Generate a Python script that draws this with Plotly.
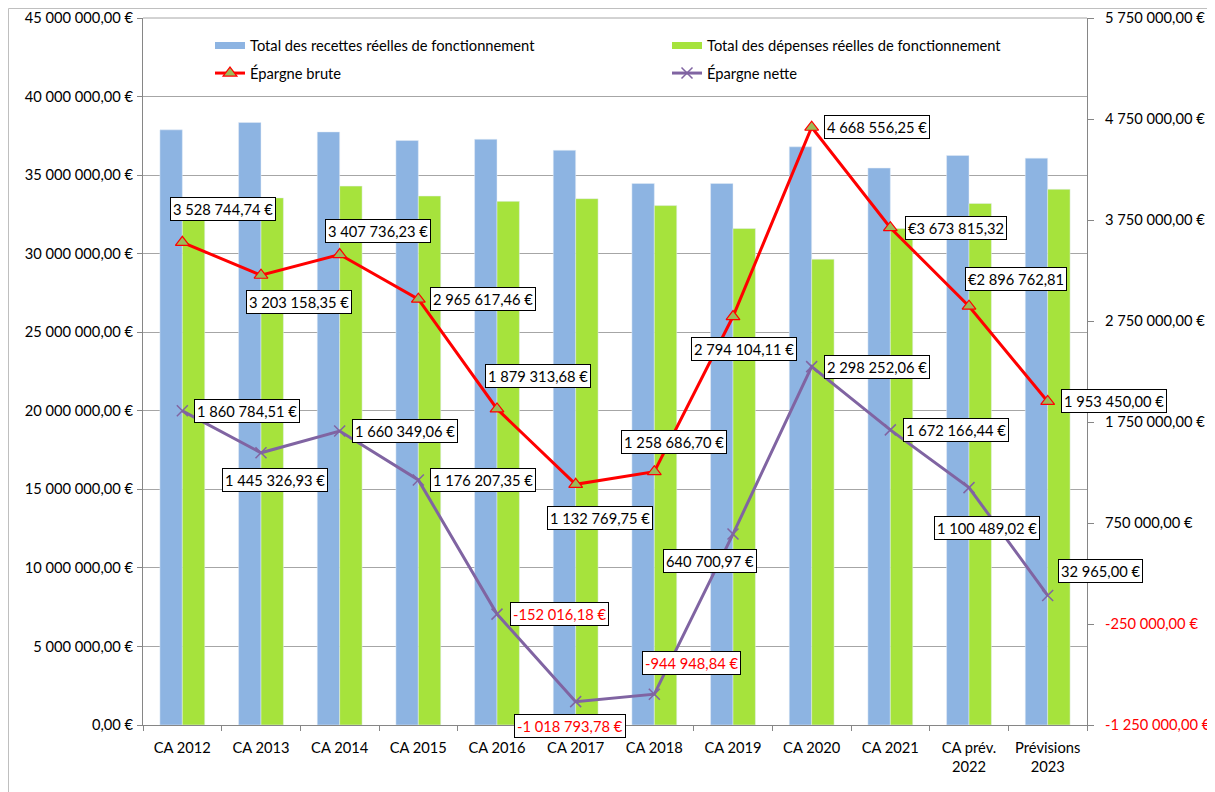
import plotly.graph_objects as go

# ---------------- data ----------------
categories = ["CA 2012", "CA 2013", "CA 2014", "CA 2015", "CA 2016", "CA 2017",
              "CA 2018", "CA 2019", "CA 2020", "CA 2021", "CA prév.<br>2022",
              "Prévisions<br>2023"]
recettes = [37880000, 38350000, 37750000, 37200000, 37280000, 36580000,
            34470000, 34470000, 36800000, 35450000, 36250000, 36080000]
depenses = [33000000, 33550000, 34300000, 33670000, 33330000, 33500000,
            33060000, 31600000, 29650000, 31600000, 33200000, 34100000]
epargne_brute = [3528744.74, 3203158.35, 3407736.23, 2965617.46, 1879313.68,
                 1132769.75, 1258686.70, 2794104.11, 4668556.25, 3673815.32,
                 2896762.81, 1953450.00]
epargne_nette = [1860784.51, 1445326.93, 1660349.06, 1176207.35, -152016.18,
                 -1018793.78, -944948.84, 640700.97, 2298252.06, 1672166.44,
                 1100489.02, 32965.00]
# label style: euro sign as prefix for some points (as in the source)
brute_euro_prefix = [False] * 9 + [True, True, False]
left_ticks = [0, 5e6, 10e6, 15e6, 20e6, 25e6, 30e6, 35e6, 40e6, 45e6]
right_ticks = [-1250000, -250000, 750000, 1750000, 2750000, 3750000, 4750000, 5750000]

# label offsets in pixels (xshift, yshift)
brute_shift = [(41, 33), (38, -27), (38, 24), (65, 0), (41, 33), (24, -34),
               (20, 30), (11, -32), (65, 0), (66, 0), (47, 27), (66, 0)]
nette_shift = [(65, 0), (14, -27), (65, 0), (65, 0), (62, 0), (-6, -24),
               (37, 31), (-23, -27), (65, 0), (66, 0), (18, -40), (53, 24)]

FONT = "Lato, 'Open Sans', sans-serif"
FS = 14.7
BLUE = "#8DB4E2"
GREEN = "#A6E33C"
RED = "#FF0000"
PURPLE = "#8064A2"
GRID = "#A6A6A6"
AXIS = "#868686"


def fr(v, prefix=False):
    s = f"{abs(v):,.2f}".replace(",", " ").replace(".", ",")
    sign = "-" if v < 0 else ""
    return f"€{sign}{s}" if prefix else f"{sign}{s} €"


# page body has an 8px margin: figure origin sits at screen (8, 8)
OFF = 8
W, H = 1215, 792
PL, PR, PT, PB = 143, 1087, 18, 725          # plot area in screen pixels
ML, MT = PL - OFF, PT - OFF
MR, MB = W - (PR - OFF), H - (PB - OFF)
PW, PH = PR - PL, PB - PT


def px(xs):
    return (xs - PL) / PW


def py(ys):
    return (PB - ys) / PH


fig = go.Figure()
fig.add_trace(go.Bar(x=categories, y=recettes, marker_color=BLUE,
                     name="Total des recettes réelles de fonctionnement",
                     showlegend=False))
fig.add_trace(go.Bar(x=categories, y=depenses, marker_color=GREEN,
                     name="Total des dépenses réelles de fonctionnement",
                     showlegend=False))
fig.add_trace(go.Scatter(x=categories, y=epargne_brute, yaxis="y2",
                         mode="lines+markers", name="Épargne brute",
                         line=dict(color=RED, width=3),
                         marker=dict(symbol="triangle-up", size=12, color="#9BBB59",
                                     line=dict(color=RED, width=1.2)),
                         legend="legend3"))
fig.add_trace(go.Scatter(x=categories, y=epargne_nette, yaxis="y2",
                         mode="lines+markers", name="Épargne nette",
                         line=dict(color=PURPLE, width=3),
                         marker=dict(symbol="x-thin", size=11,
                                     line=dict(color=PURPLE, width=1.5)),
                         legend="legend4"))
# legend entries for the bars (wide rectangle look)
fig.add_trace(go.Scatter(x=categories[:1], y=[None], mode="lines",
                         name="Total des recettes réelles de fonctionnement",
                         line=dict(color=BLUE, width=7), legend="legend"))
fig.add_trace(go.Scatter(x=categories[:1], y=[None], mode="lines",
                         name="Total des dépenses réelles de fonctionnement",
                         line=dict(color=GREEN, width=7), legend="legend2"))

annotations = []
for i, c in enumerate(categories):
    annotations.append(dict(
        x=c, y=epargne_brute[i], xref="x", yref="y2",
        text=fr(epargne_brute[i], brute_euro_prefix[i]), showarrow=False,
        xshift=brute_shift[i][0], yshift=brute_shift[i][1],
        xanchor="center", yanchor="middle",
        font=dict(family=FONT, size=FS, color=RED if epargne_brute[i] < 0 else "black"),
        bgcolor="white", bordercolor="black", borderwidth=1, borderpad=2))
    annotations.append(dict(
        x=c, y=epargne_nette[i], xref="x", yref="y2",
        text=fr(epargne_nette[i]), showarrow=False,
        xshift=nette_shift[i][0], yshift=nette_shift[i][1],
        xanchor="center", yanchor="middle",
        font=dict(family=FONT, size=FS, color=RED if epargne_nette[i] < 0 else "black"),
        bgcolor="white", bordercolor="black", borderwidth=1, borderpad=2))

right_text = [f'<span style="color:{RED}">{fr(v)}</span>' if v < 0 else fr(v)
              for v in right_ticks]


def leg(xs, ys):
    return dict(orientation="h", x=px(xs), y=py(ys), xanchor="left",
                yanchor="top", bgcolor="rgba(0,0,0,0)", font=dict(size=FS),
                itemclick=False, itemdoubleclick=False)


fig.update_layout(
    width=W, height=H,
    margin=dict(l=ML, r=MR, t=MT, b=MB, pad=0, autoexpand=False),
    paper_bgcolor="white", plot_bgcolor="white",
    font=dict(family=FONT, size=FS, color="black"),
    barmode="group", bargap=0.43, bargroupgap=0,
    annotations=annotations,
    xaxis=dict(type="category", categoryorder="array", categoryarray=categories,
               range=[-0.5, 11.5], tickson="boundaries", ticks="outside",
               ticklen=5, tickcolor=AXIS, showline=True, linecolor=AXIS,
               showgrid=False, tickangle=0, automargin=False,
               ticklabelstandoff=9, tickfont=dict(size=FS)),
    yaxis=dict(range=[0, 45e6], tickvals=left_ticks,
               ticktext=[fr(v) for v in left_ticks], showgrid=True,
               gridcolor=GRID, gridwidth=1, zeroline=False, showline=True,
               linecolor=AXIS, ticks="outside", ticklen=5, automargin=False,
               ticklabelstandoff=1, ticklabeloverflow="allow",
               tickcolor=AXIS, tickfont=dict(size=FS)),
    yaxis2=dict(range=[-1250000, 5750000], overlaying="y", side="right",
                tickvals=right_ticks, ticktext=right_text, showgrid=False,
                zeroline=False, showline=True, linecolor=AXIS, automargin=False,
                ticks="outside", ticklen=6, tickcolor=AXIS,
                ticklabeloverflow="allow",
                ticklabelstandoff=8, tickfont=dict(size=FS)),
    legend=leg(210, 29.5),
    legend2=leg(667, 29.5),
    legend3=leg(210, 57),
    legend4=leg(667, 57),
    shapes=[
        dict(type="line", xref="paper", yref="paper",
             x0=px(8.5), x1=px(1240), y0=py(8.5), y1=py(8.5),
             line=dict(color="#BFBFBF", width=1), layer="below"),
        dict(type="line", xref="paper", yref="paper",
             x0=px(8.5), x1=px(8.5), y0=py(8.5), y1=py(815),
             line=dict(color="#BFBFBF", width=1), layer="below"),
        dict(type="line", xref="paper", yref="paper",
             x0=0, x1=1, y0=1, y1=1,
             line=dict(color=GRID, width=1), layer="below"),
    ],
)

fig.write_html("out.html")
